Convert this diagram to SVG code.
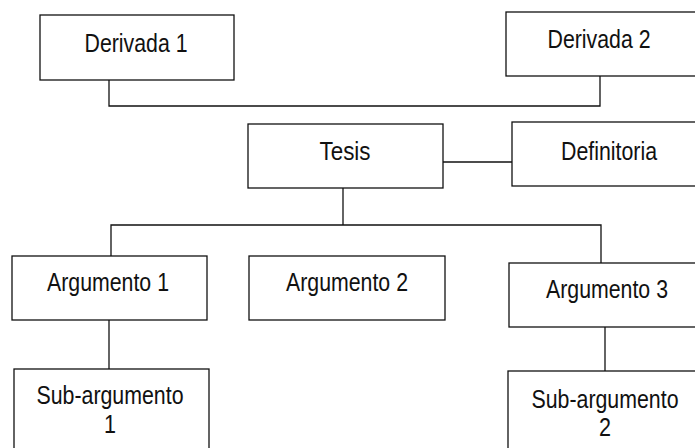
<svg xmlns="http://www.w3.org/2000/svg" width="695" height="448" viewBox="0 0 695 448">
<style>
.box{fill:#fff;stroke:#111;stroke-width:1.3}
.lbl{font-family:"Liberation Sans",Arial,sans-serif;font-size:26px;fill:#111;text-anchor:middle}
.con{fill:none;stroke:#111;stroke-width:1.3}
</style>
<rect width="695" height="448" fill="#fff"/>
<g id="connectors">
<polyline class="con" points="109,80 109,106 600,106 600,76"/>
<line class="con" x1="443" y1="162" x2="512" y2="162"/>
<line class="con" x1="343" y1="188" x2="343" y2="225"/>
<polyline class="con" points="111,256 111,225 601,225 601,263"/>
<line class="con" x1="109" y1="320" x2="109" y2="369"/>
<line class="con" x1="605" y1="327" x2="605" y2="371"/>
</g>
<g id="derivada1"><rect class="box" x="40" y="15" width="194" height="65"/><text class="lbl" x="136" y="52" textLength="103" lengthAdjust="spacingAndGlyphs">Derivada 1</text></g>
<g id="derivada2"><rect class="box" x="506" y="12" width="200" height="64"/><text class="lbl" x="599" y="48" textLength="103" lengthAdjust="spacingAndGlyphs">Derivada 2</text></g>
<g id="tesis"><rect class="box" x="248" y="124" width="195" height="64"/><text class="lbl" x="345" y="160" textLength="51" lengthAdjust="spacingAndGlyphs">Tesis</text></g>
<g id="definitoria"><rect class="box" x="512" y="122" width="200" height="64"/><text class="lbl" x="609" y="160" textLength="96" lengthAdjust="spacingAndGlyphs">Definitoria</text></g>
<g id="argumento1"><rect class="box" x="12" y="256" width="195" height="64"/><text class="lbl" x="108" y="291" textLength="122" lengthAdjust="spacingAndGlyphs">Argumento 1</text></g>
<g id="argumento2"><rect class="box" x="249" y="256" width="196" height="64"/><text class="lbl" x="347" y="291" textLength="122" lengthAdjust="spacingAndGlyphs">Argumento 2</text></g>
<g id="argumento3"><rect class="box" x="509" y="263" width="200" height="64"/><text class="lbl" x="607" y="298" textLength="122" lengthAdjust="spacingAndGlyphs">Argumento 3</text></g>
<g id="subargumento1"><rect class="box" x="14" y="369" width="195" height="100"/><text class="lbl" x="110" y="404" textLength="147" lengthAdjust="spacingAndGlyphs">Sub-argumento</text><text class="lbl" x="110" y="433" textLength="12" lengthAdjust="spacingAndGlyphs">1</text></g>
<g id="subargumento2"><rect class="box" x="508" y="371" width="200" height="100"/><text class="lbl" x="605" y="408" textLength="147" lengthAdjust="spacingAndGlyphs">Sub-argumento</text><text class="lbl" x="605" y="436" textLength="12" lengthAdjust="spacingAndGlyphs">2</text></g>
</svg>
